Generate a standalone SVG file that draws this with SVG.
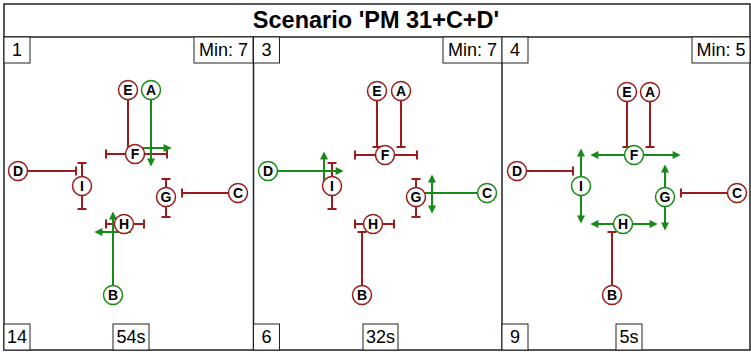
<svg xmlns="http://www.w3.org/2000/svg" width="751" height="352" viewBox="0 0 751 352">
<style>
.frame{fill:none;stroke:#222;stroke-width:1.5}
.box{fill:#fff;stroke:#222;stroke-width:1}
.lbl{font-family:"Liberation Sans",Arial,sans-serif;font-size:18px;fill:#000;text-anchor:middle}
.title{font-family:"Liberation Sans",Arial,sans-serif;font-size:23.5px;font-weight:bold;fill:#000;text-anchor:middle}
.n circle{fill:#fff;stroke-width:1.5}
.n text{font-family:"Liberation Sans",Arial,sans-serif;font-size:14px;font-weight:bold;fill:#000;text-anchor:middle}
.r circle{stroke:#9b1c1c}
.g circle{stroke:#178a17}
.cr{fill:none;stroke:#9b1c1c;stroke-width:2}
.cg{fill:none;stroke:#178a17;stroke-width:2}
.t1{marker-end:url(#tbar)}
.t2{marker-start:url(#tbar);marker-end:url(#tbar)}
.a1{marker-end:url(#arr)}
.a2{marker-start:url(#arr);marker-end:url(#arr)}
</style>
<defs>
<marker id="tbar" markerUnits="userSpaceOnUse" viewBox="-3 -6 6 12" markerWidth="6" markerHeight="12" refX="0" refY="0" orient="auto">
<path d="M0,-4.5 V4.5" stroke="#9b1c1c" stroke-width="2" fill="none"/>
</marker>
<marker id="arr" markerUnits="userSpaceOnUse" viewBox="0 0 10 10" markerWidth="9" markerHeight="8" refX="8" refY="5" orient="auto-start-reverse">
<path d="M0,0 L10,5 L0,10 z" fill="#178a17"/>
</marker>
</defs>
<rect x="0" y="0" width="751" height="352" fill="#fff"/>
<g id="frame">
<rect class="frame" x="4" y="4" width="746" height="346"/>
<line class="frame" x1="4" y1="37" x2="750" y2="37"/>
<line class="frame" x1="253.5" y1="37" x2="253.5" y2="350"/>
<line class="frame" x1="502" y1="37" x2="502" y2="350"/>
<text class="title" x="376" y="28">Scenario 'PM 31+C+D'</text>
</g>
<g id="labels">
<rect class="box" x="4" y="37" width="26" height="26"/><text class="lbl" x="17" y="56">1</text>
<rect class="box" x="194" y="37" width="59" height="26"/><text class="lbl" x="223.5" y="56">Min: 7</text>
<rect class="box" x="4" y="324" width="26" height="26"/><text class="lbl" x="17" y="343">14</text>
<rect class="box" x="113" y="324" width="36" height="26"/><text class="lbl" x="131" y="343">54s</text>
<rect class="box" x="253.5" y="37" width="26" height="26"/><text class="lbl" x="266.5" y="56">3</text>
<rect class="box" x="443" y="37" width="59" height="26"/><text class="lbl" x="472.5" y="56">Min: 7</text>
<rect class="box" x="253.5" y="324" width="26" height="26"/><text class="lbl" x="266.5" y="343">6</text>
<rect class="box" x="363" y="324" width="35" height="26"/><text class="lbl" x="380.5" y="343">32s</text>
<rect class="box" x="502" y="37" width="26" height="26"/><text class="lbl" x="515" y="56">4</text>
<rect class="box" x="692" y="37" width="58" height="26"/><text class="lbl" x="721" y="56">Min: 5</text>
<rect class="box" x="502" y="324" width="26" height="26"/><text class="lbl" x="515" y="343">9</text>
<rect class="box" x="616" y="324" width="26" height="26"/><text class="lbl" x="629" y="343">5s</text>
</g>
<g id="connectors">
<g id="c-p1">
<path class="cr" d="M128,90 V148"/>
<path class="cr t2" d="M106,154 H167"/>
<path class="cr t1" d="M18,171 H76"/>
<path class="cr t2" d="M82,163 V209"/>
<path class="cr t2" d="M166,179 V217"/>
<path class="cr t1" d="M238,193 H182"/>
<path class="cr t2" d="M106,224 H144"/>
<path class="cg a1" d="M135,148 H170"/>
<path class="cg a1" d="M151,90 V165"/>
<path class="cg a1" d="M113,295 V213"/>
<path class="cg a1" d="M131,232 H96"/>
</g>
<g id="c-p2" transform="translate(249,0)">
<path class="cr t1" d="M128,91 V147"/>
<path class="cr t1" d="M152,91 V147"/>
<path class="cr t2" d="M106,155 H168"/>
<path class="cr t2" d="M83,163 V209"/>
<path class="cr t2" d="M167,179 V217"/>
<path class="cr t2" d="M106,224 H145"/>
<path class="cr t1" d="M113,295 V232"/>
<path class="cg a1" d="M19,171 H93"/>
<path class="cg a1" d="M75,183 V153"/>
<path class="cg" d="M238,193 H167"/>
<path class="cg a2" d="M183,176 V212"/>
</g>
<g id="c-p3" transform="translate(499,0)">
<path class="cr t1" d="M128,92 V147"/>
<path class="cr t1" d="M151,92 V147"/>
<path class="cr t1" d="M18,171 H74"/>
<path class="cr t1" d="M238,193 H182"/>
<path class="cr t1" d="M113,295 V232"/>
<path class="cg a2" d="M93,155 H180"/>
<path class="cg a2" d="M82,150 V222"/>
<path class="cg a2" d="M166,166 V229"/>
<path class="cg a2" d="M93,224 H157"/>
</g>
</g>
<g id="panel1">
<g id="p1-E" class="n r"><circle cx="128" cy="90" r="9.5"/><text x="128" y="95">E</text></g>
<g id="p1-A" class="n g"><circle cx="151" cy="90" r="9.5"/><text x="151" y="95">A</text></g>
<g id="p1-F" class="n r"><circle cx="135" cy="154" r="9.5"/><text x="135" y="159">F</text></g>
<g id="p1-D" class="n r"><circle cx="18" cy="171" r="9.5"/><text x="18" y="176">D</text></g>
<g id="p1-I" class="n r"><circle cx="82" cy="186" r="9.5"/><text x="82" y="191">I</text></g>
<g id="p1-G" class="n r"><circle cx="166" cy="197" r="9.5"/><text x="166" y="202">G</text></g>
<g id="p1-C" class="n r"><circle cx="238" cy="193" r="9.5"/><text x="238" y="198">C</text></g>
<g id="p1-H" class="n r"><circle cx="124" cy="224" r="9.5"/><text x="124" y="229">H</text></g>
<g id="p1-B" class="n g"><circle cx="113" cy="295" r="9.5"/><text x="113" y="300">B</text></g>
</g>
<g id="panel2" transform="translate(249,0)">
<g id="p2-E" class="n r"><circle cx="128" cy="91" r="9.5"/><text x="128" y="96">E</text></g>
<g id="p2-A" class="n r"><circle cx="152" cy="91" r="9.5"/><text x="152" y="96">A</text></g>
<g id="p2-F" class="n r"><circle cx="136" cy="155" r="9.5"/><text x="136" y="160">F</text></g>
<g id="p2-D" class="n g"><circle cx="19" cy="171" r="9.5"/><text x="19" y="176">D</text></g>
<g id="p2-I" class="n r"><circle cx="83" cy="186" r="9.5"/><text x="83" y="191">I</text></g>
<g id="p2-G" class="n r"><circle cx="167" cy="197" r="9.5"/><text x="167" y="202">G</text></g>
<g id="p2-C" class="n g"><circle cx="238" cy="193" r="9.5"/><text x="238" y="198">C</text></g>
<g id="p2-H" class="n r"><circle cx="124" cy="224" r="9.5"/><text x="124" y="229">H</text></g>
<g id="p2-B" class="n r"><circle cx="113" cy="295" r="9.5"/><text x="113" y="300">B</text></g>
</g>
<g id="panel3" transform="translate(499,0)">
<g id="p3-E" class="n r"><circle cx="128" cy="92" r="9.5"/><text x="128" y="97">E</text></g>
<g id="p3-A" class="n r"><circle cx="151" cy="92" r="9.5"/><text x="151" y="97">A</text></g>
<g id="p3-F" class="n g"><circle cx="135" cy="155" r="9.5"/><text x="135" y="160">F</text></g>
<g id="p3-D" class="n r"><circle cx="18" cy="171" r="9.5"/><text x="18" y="176">D</text></g>
<g id="p3-I" class="n g"><circle cx="82" cy="186" r="9.5"/><text x="82" y="191">I</text></g>
<g id="p3-G" class="n g"><circle cx="166" cy="197" r="9.5"/><text x="166" y="202">G</text></g>
<g id="p3-C" class="n r"><circle cx="238" cy="193" r="9.5"/><text x="238" y="198">C</text></g>
<g id="p3-H" class="n g"><circle cx="124" cy="224" r="9.5"/><text x="124" y="229">H</text></g>
<g id="p3-B" class="n r"><circle cx="113" cy="295" r="9.5"/><text x="113" y="300">B</text></g>
</g>
</svg>
